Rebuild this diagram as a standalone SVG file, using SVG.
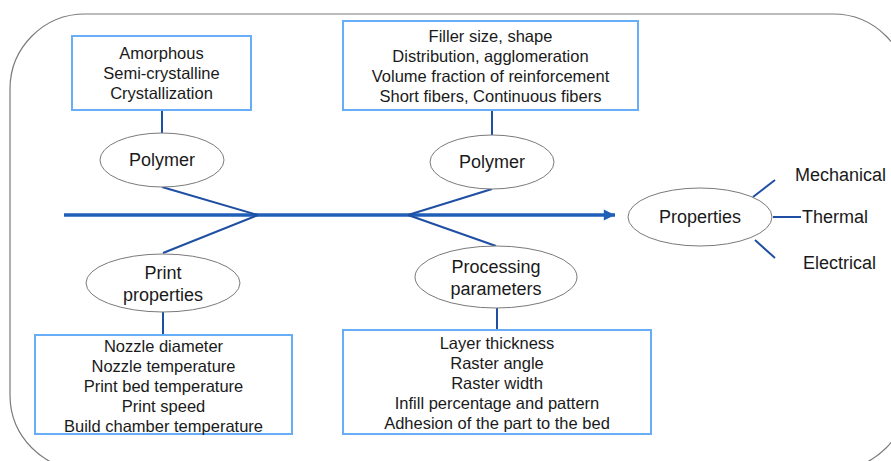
<svg xmlns="http://www.w3.org/2000/svg" width="891" height="461" viewBox="0 0 891 461">
<defs>
<style>
.box{fill:#fff;stroke:#68adf8;stroke-width:2}
.ell{fill:#fff;stroke:#7a7a7a;stroke-width:1}
.t{font-family:"Liberation Sans",Arial,sans-serif;font-size:16.5px;fill:#1a1a1a;text-anchor:middle;dominant-baseline:central}
.l{font-family:"Liberation Sans",Arial,sans-serif;font-size:18px;fill:#1a1a1a;text-anchor:middle;dominant-baseline:central}
.r{font-family:"Liberation Sans",Arial,sans-serif;font-size:18px;fill:#1a1a1a;dominant-baseline:central}
.c{stroke:#1f4fa3;stroke-width:2;fill:none}
</style>
<marker id="ah" viewBox="0 0 10 10" refX="10" refY="5" markerWidth="3.5" markerHeight="3.2" markerUnits="strokeWidth" orient="auto">
<path d="M0,0 L10,5 L0,10 z" fill="#1f5fb8"/>
</marker>
</defs>
<rect x="0" y="0" width="891" height="461" fill="#fff"/>
<rect id="frame" x="10" y="14" width="898" height="456" rx="75" ry="75" fill="none" stroke="#7a7a7a" stroke-width="1.2"/>
<g id="connectors">
<line x1="64" y1="215" x2="615" y2="215" stroke="#1f5fb8" stroke-width="3.5" marker-end="url(#ah)"/>
<line class="c" x1="162" y1="110" x2="162" y2="133"/>
<line class="c" x1="162" y1="187" x2="258" y2="215"/>
<line class="c" x1="258" y1="215" x2="163" y2="253"/>
<line class="c" x1="163" y1="312" x2="163" y2="335"/>
<line class="c" x1="492" y1="110" x2="492" y2="135"/>
<line class="c" x1="492" y1="189" x2="408" y2="215"/>
<line class="c" x1="408" y1="215" x2="496" y2="246"/>
<line class="c" x1="497" y1="308" x2="497" y2="330"/>
<line class="c" x1="753" y1="197" x2="775" y2="180"/>
<line class="c" x1="773" y1="217" x2="801" y2="217"/>
<line class="c" x1="755" y1="240" x2="775" y2="258"/>
</g>
<g id="box-polymer-morph">
<rect class="box" x="72" y="36" width="179" height="74"/>
<text class="t" x="161.5" y="53">Amorphous</text>
<text class="t" x="161.5" y="73">Semi-crystalline</text>
<text class="t" x="161.5" y="93">Crystallization</text>
</g>
<g id="ell-polymer1">
<ellipse class="ell" cx="162" cy="160" rx="62" ry="27"/>
<text class="l" x="162" y="160">Polymer</text>
</g>
<g id="box-filler">
<rect class="box" x="343" y="21" width="295" height="89"/>
<text class="t" x="490.5" y="36">Filler size, shape</text>
<text class="t" x="490.5" y="56">Distribution, agglomeration</text>
<text class="t" x="490.5" y="76">Volume fraction of reinforcement</text>
<text class="t" x="490.5" y="96">Short fibers, Continuous fibers</text>
</g>
<g id="ell-polymer2">
<ellipse class="ell" cx="492" cy="162" rx="62" ry="27"/>
<text class="l" x="492" y="162">Polymer</text>
</g>
<g id="ell-print">
<ellipse class="ell" cx="163" cy="283" rx="77" ry="29"/>
<text class="l" x="163" y="273">Print</text>
<text class="l" x="163" y="295">properties</text>
</g>
<g id="box-print">
<rect class="box" x="35" y="335" width="257" height="99"/>
<text class="t" x="163.5" y="346">Nozzle diameter</text>
<text class="t" x="163.5" y="366">Nozzle temperature</text>
<text class="t" x="163.5" y="386">Print bed temperature</text>
<text class="t" x="163.5" y="406">Print speed</text>
<text class="t" x="163.5" y="426">Build chamber temperature</text>
</g>
<g id="ell-processing">
<ellipse class="ell" cx="496" cy="277" rx="81" ry="31"/>
<text class="l" x="496" y="267">Processing</text>
<text class="l" x="496" y="289">parameters</text>
</g>
<g id="box-processing">
<rect class="box" x="343" y="330" width="308" height="104"/>
<text class="t" x="497" y="343">Layer thickness</text>
<text class="t" x="497" y="363">Raster angle</text>
<text class="t" x="497" y="383">Raster width</text>
<text class="t" x="497" y="403">Infill percentage and pattern</text>
<text class="t" x="497" y="423">Adhesion of the part to the bed</text>
</g>
<g id="ell-properties">
<ellipse class="ell" cx="700" cy="217" rx="72" ry="29"/>
<text class="l" x="700" y="217">Properties</text>
</g>
<g id="labels">
<text class="r" x="795" y="175">Mechanical</text>
<text class="r" x="802" y="217">Thermal</text>
<text class="r" x="803" y="263">Electrical</text>
</g>
</svg>
